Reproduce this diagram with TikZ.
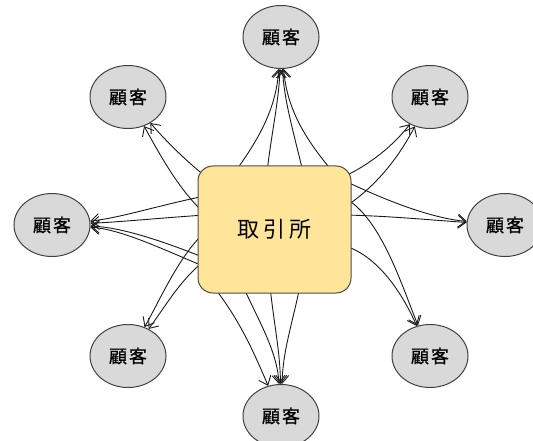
\documentclass[tikz,border=0pt]{standalone}
\usepackage{fontspec}
\setmainfont{Noto Sans CJK JP}
\newfontfamily\custfont[FakeBold=0.8]{Noto Sans CJK JP}
\usetikzlibrary{shapes.geometric,arrows.meta,backgrounds,calc}
\definecolor{custfill}{HTML}{D9D9D9}
\definecolor{boxfill}{HTML}{FFE599}
\definecolor{edgecol}{HTML}{1A1A1A}
\begin{document}
\begin{tikzpicture}[x=1pt,y=-1pt,
  cust/.style={ellipse,draw=black!75,line width=1pt,fill=custfill,
    minimum width=76pt,minimum height=63pt,inner sep=0pt,
    font=\custfont\fontsize{18}{22}\selectfont},
  hub/.style={draw=black!70,line width=1pt,fill=boxfill,rounded corners=15pt,
    minimum width=153pt,minimum height=127pt,inner sep=0pt,
    font=\fontsize{22}{26}\selectfont},
  link/.style={draw=edgecol,line width=0.9pt,-{Straight Barb[length=8pt,width=13pt]}}]
\useasboundingbox (0,0) rectangle (533,441);

\node[hub] (hub) at (274.5,229.5) {取\hspace{4pt}引\hspace{4pt}所};
\node[cust] (T)  at (281,37)  {顧\hspace{2pt}客};
\node[cust] (TL) at (128,97)  {顧\hspace{2pt}客};
\node[cust] (TR) at (430,97)  {顧\hspace{2pt}客};
\node[cust] (L)  at (52,225)  {顧\hspace{2pt}客};
\node[cust] (R)  at (505,225) {顧\hspace{2pt}客};
\node[cust] (BL) at (128,356) {顧\hspace{2pt}客};
\node[cust] (BR) at (430,356) {顧\hspace{2pt}客};
\node[cust] (B)  at (281,416) {顧\hspace{2pt}客};

\begin{pgfonlayer}{background}
% to top
\draw[link] ($(hub.center)+(-39.5,-57.5)$) .. controls (258,140) and (276,110) .. (T);
\draw[link] ($(hub.center)+(-7.5,-57.5)$) .. controls (272,130) and (279,100) .. (T);
\draw[link] ($(hub.center)+(28.5,-57.5)$) .. controls (293,130) and (284,100) .. (T);
\draw[link] ($(hub.center)+(58.5,-57.5)$) .. controls (306,140) and (287,110) .. (T);
% to top-left
\draw[link] ($(hub.center)+(-69.5,-53.5)$) .. controls (185,160) and (165,140) .. (TL);
\draw[link] ($(hub.center)+(-71.5,-17.5)$) .. controls (178,188) and (160,155) .. (TL);
% to left
\draw[link] ($(hub.center)+(-69.5,-33.5)$) .. controls (160,205) and (120,218) .. (L);
\draw[link] ($(hub.center)+(-69.5,-14.5)$) .. controls (160,218) and (120,222) .. (L);
\draw[link] ($(hub.center)+(-69.5,28.5)$) .. controls (160,240) and (120,227) .. (L);
\draw[link] ($(hub.center)+(-71.5,36.5)$) .. controls (160,248) and (120,229) .. (L);
% to bottom-left
\draw[link] ($(hub.center)+(-71.5,4.5)$) .. controls (178,258) and (160,300) .. (BL);
\draw[link] ($(hub.center)+(-71.5,32.5)$) .. controls (180,280) and (163,310) .. (BL);
% to bottom
\draw[link] ($(hub.center)+(-61.5,56.5)$) .. controls (240,320) and (255,355) .. (B);
\draw[link] ($(hub.center)+(-31.5,56.5)$) .. controls (258,320) and (277,350) .. (B);
\draw[link] ($(hub.center)+(-4.5,56.5)$) .. controls (274,325) and (280,350) .. (B);
\draw[link] ($(hub.center)+(25.5,56.5)$) .. controls (292,325) and (283,350) .. (B);
% to bottom-right
\draw[link] ($(hub.center)+(70.5,-31.5)$) .. controls (380,218) and (400,280) .. (BR);
\draw[link] ($(hub.center)+(70.5,16.5)$) .. controls (375,255) and (400,288) .. (BR);
% to right
\draw[link] ($(hub.center)+(70.5,-48.5)$) .. controls (385,200) and (430,218) .. (R);
\draw[link] ($(hub.center)+(70.5,-14.5)$) .. controls (390,216) and (430,220) .. (R);
% to top-right
\draw[link] ($(hub.center)+(70.5,-53.5)$) .. controls (375,162) and (398,140) .. (TR);
\draw[link] ($(hub.center)+(70.5,-22.5)$) .. controls (378,185) and (400,155) .. (TR);
\end{pgfonlayer}
\end{tikzpicture}
\end{document}
